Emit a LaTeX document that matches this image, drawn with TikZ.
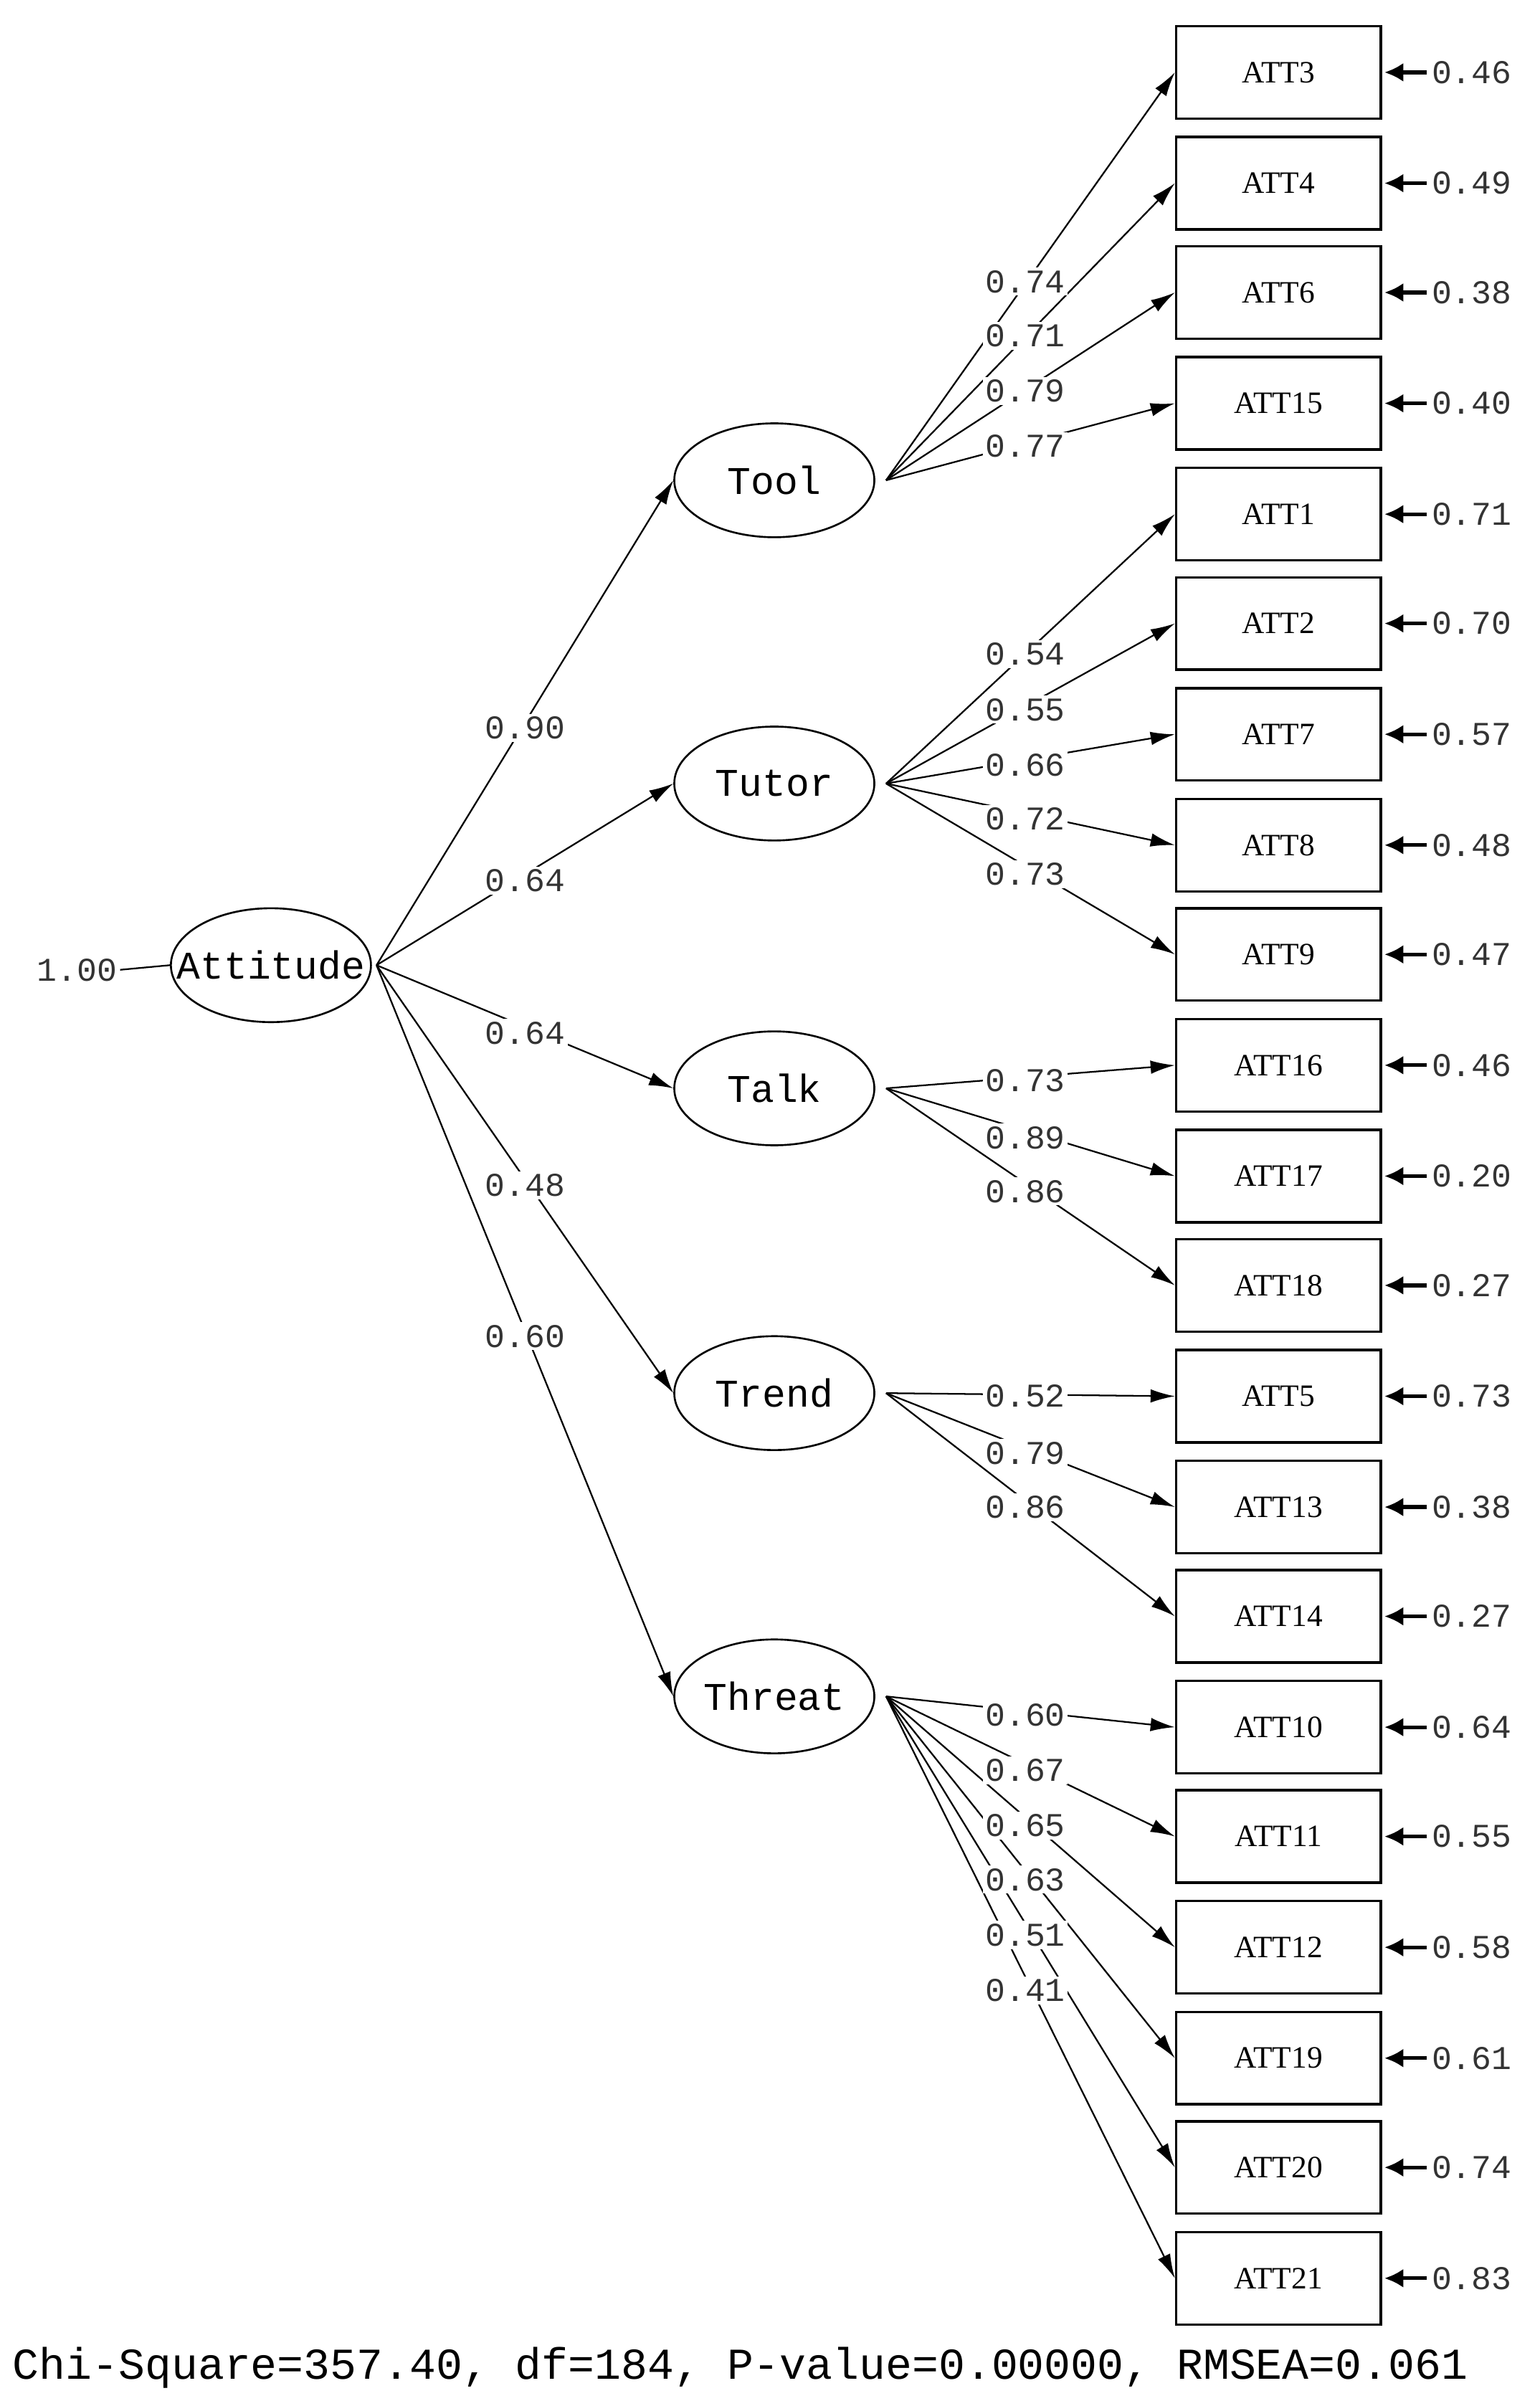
\documentclass[tikz,border=0pt]{standalone}
\usepackage{fontspec}
\setmonofont{Liberation Mono}
\newfontfamily\boxfont{Liberation Serif}
\usetikzlibrary{arrows.meta,shapes.geometric}
\begin{document}
\begin{tikzpicture}[x=0.02cm,y=-0.02cm,
  obs/.style={draw,line width=0.9pt,minimum width=2.66cm,minimum height=1.2cm,inner sep=0pt,font=\boxfont\fontsize{11.5}{11.5}\selectfont},
  lat/.style={draw,ellipse,line width=0.7pt,minimum width=2.6cm,minimum height=1.48cm,inner sep=0pt,font=\ttfamily\fontsize{14.5}{14.5}\selectfont},
  lbl/.style={fill=white,inner sep=1pt,text=black!80,font=\ttfamily\fontsize{12.3}{12.3}\selectfont},
  path/.style={line width=0.6pt,-{Latex[length=9pt,width=5pt]}},
  err/.style={line width=1.4pt,-{Latex[length=7pt,width=7pt]}}]
\useasboundingbox (0,0) rectangle (1000,1563);
\node[lat] (Attitude) at (176,627) {\makebox[0pt]{Attitude}};
\node[lat] (Tool) at (503,312) {Tool};
\node[lat] (Tutor) at (503,509) {Tutor};
\node[lat] (Talk) at (503,707) {Talk};
\node[lat] (Trend) at (503,905) {Trend};
\node[lat] (Threat) at (503,1102) {Threat};
\foreach \f in {Tool,Tutor,Talk,Trend,Threat} \coordinate (\f o) at ([xshift=0.14cm]\f.east);
\coordinate (Atto) at ([xshift=0.06cm]Attitude.east);
\node[lbl,fill=none] (one) at (50,630) {1.00};
\draw[line width=0.6pt] (one.east) -- (Attitude.west);
\foreach \n/\y/\f/\e in {ATT3/47/Tool/0.46,ATT4/119/Tool/0.49,ATT6/190/Tool/0.38,ATT15/262/Tool/0.40,
 ATT1/334/Tutor/0.71,ATT2/405/Tutor/0.70,ATT7/477/Tutor/0.57,ATT8/549/Tutor/0.48,ATT9/620/Tutor/0.47,
 ATT16/692/Talk/0.46,ATT17/764/Talk/0.20,ATT18/835/Talk/0.27,
 ATT5/907/Trend/0.73,ATT13/979/Trend/0.38,ATT14/1050/Trend/0.27,
 ATT10/1122/Threat/0.64,ATT11/1193/Threat/0.55,ATT12/1265/Threat/0.58,ATT19/1337/Threat/0.61,ATT20/1408/Threat/0.74,ATT21/1480/Threat/0.83}{
  \node[obs] (\n) at (830.5,\y) {\n};
  \draw[path] (\f o) -- (\n.west);
  \coordinate (\n e) at (927,\y);
  \draw[err] (\n e) -- ([xshift=0.03cm]\n.east);
  \node[lbl,fill=none,anchor=west] (\n v) at (928,\y) {\e};
}
\foreach \f in {Tool,Tutor,Talk,Trend,Threat} \draw[path] (Atto) -- (\f.west);
\foreach \v/\y/\i in {0.90/473/a,0.64/572/b,0.64/671/c,0.48/770/d,0.60/868/e}
  \node[lbl] (g\i) at (341,\y) {\v};
\foreach \v/\y/\i in {0.74/183/1,0.71/218/2,0.79/254/3,0.77/290/4,
 0.54/425/5,0.55/461/6,0.66/497/7,0.72/532/8,0.73/568/9,
 0.73/702/10,0.89/739/11,0.86/774/12,0.52/907/13,0.79/944/14,0.86/979/15,
 0.60/1114/16,0.67/1150/17,0.65/1186/18,0.63/1221/19,0.51/1257/20,0.41/1293/21}
  \node[lbl] (l\i) at (666,\y) {\v};
\node[font=\ttfamily\fontsize{16.3}{16.3}\selectfont,anchor=west,inner sep=0pt] (fit) at (8,1538) {Chi-Square=357.40, df=184, P-value=0.00000, RMSEA=0.061};
\end{tikzpicture}
\end{document}
